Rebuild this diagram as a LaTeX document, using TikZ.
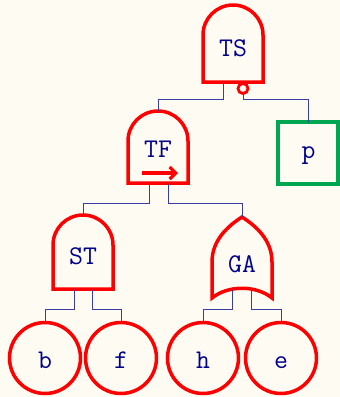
\documentclass[tikz,border=0pt]{standalone}
\usetikzlibrary{arrows.meta}
\definecolor{paper}{RGB}{253,251,242}
\definecolor{gatered}{RGB}{255,0,0}
\definecolor{evgreen}{RGB}{0,166,81}
\definecolor{wire}{RGB}{60,60,165}
\definecolor{ink}{RGB}{0,0,140}
\tikzset{
  gate/.style={draw=gatered, line width=3.5pt, line join=miter},
  basic/.style={draw=gatered, line width=3.5pt},
  house/.style={draw=evgreen, line width=3.5pt},
  conn/.style={draw=wire, line width=0.9pt},
  lbl/.style={text=ink, font=\fontsize{27}{30}\selectfont\ttfamily, inner sep=0pt, anchor=base},
}
\begin{document}
\begin{tikzpicture}[x=1pt,y=-1pt]
  % canvas
  \fill[paper] (0,0) rectangle (340,397);
  \useasboundingbox (0,0) rectangle (340,397);

  % ---- top AND gate TS with inverted input ----
  \draw[gate] (203,82) -- (203,35) arc (180:360:30) -- (263,82) -- cycle;
  \node[lbl] (TS) at (233,56) {TS};
  \coordinate (TSin1) at (223,83);
  \draw[gatered, line width=2.8pt, fill=paper] (243,88.5) circle (5);
  \coordinate (TSin2) at (243,94);

  % ---- house event p ----
  \draw[house] (278,122) rectangle (338,184);
  \node[lbl] (p) at (308.5,158) {p};
  \coordinate (pout) at (308.5,122);

  % ---- priority AND gate TF ----
  \draw[gate] (128,183) -- (128,141) arc (180:360:30) -- (188,183) -- cycle;
  \node[lbl] (TF) at (158,157) {TF};
  \draw[gatered, line width=3.2pt, -{Straight Barb[length=6pt,width=12pt,line width=3.2pt]}]
    (142,173) -- (178,173);
  \coordinate (TFout) at (158,111);
  \coordinate (TFin1) at (149,184);
  \coordinate (TFin2) at (168,184);

  % ---- AND gate ST ----
  \draw[gate] (53,289) -- (53,245) arc (180:360:30) -- (113,289) -- cycle;
  \node[lbl] (ST) at (83,264) {ST};
  \coordinate (STout) at (83,215);
  \coordinate (STin1) at (74,290);
  \coordinate (STin2) at (92,290);

  % ---- OR gate GA ----
  \draw[gate] (212,298) -- (212,262)
     .. controls (212,240) and (228,226) .. (242,217)
     .. controls (256,226) and (272,240) .. (272,262)
     -- (272,298)
     .. controls (256,285) and (228,285) .. (212,298) -- cycle;
  \node[lbl] (GA) at (242,272) {GA};
  \coordinate (GAout) at (242,217);
  \coordinate (GAin1) at (232,290);
  \coordinate (GAin2) at (251,290);

  % ---- basic events ----
  \node[basic, circle, minimum size=71pt, inner sep=0pt] (b) at (45,358) {};
  \node[basic, circle, minimum size=71pt, inner sep=0pt] (f) at (121,358) {};
  \node[basic, circle, minimum size=71pt, inner sep=0pt] (h) at (203,358) {};
  \node[basic, circle, minimum size=71pt, inner sep=0pt] (e) at (281,358) {};
  \node[lbl] (blbl) at (45,368) {b};
  \node[lbl] (flbl) at (121,368) {f};
  \node[lbl] (hlbl) at (203,368) {h};
  \node[lbl] (elbl) at (281,368) {e};

  % ---- connectors ----
  \draw[conn] (TSin1) |- (158,99) -- (TFout);
  \draw[conn] (TSin2) |- (308.5,99) -- (pout);
  \draw[conn] (TFin1) |- (83,203) -- (STout);
  \draw[conn] (TFin2) |- (242,203) -- (GAout);
  \draw[conn] (STin1) |- (45,309) -- (b.north);
  \draw[conn] (STin2) |- (121,309) -- (f.north);
  \draw[conn] (GAin1) |- (203,309) -- (h.north);
  \draw[conn] (GAin2) |- (281,309) -- (e.north);
\end{tikzpicture}
\end{document}
